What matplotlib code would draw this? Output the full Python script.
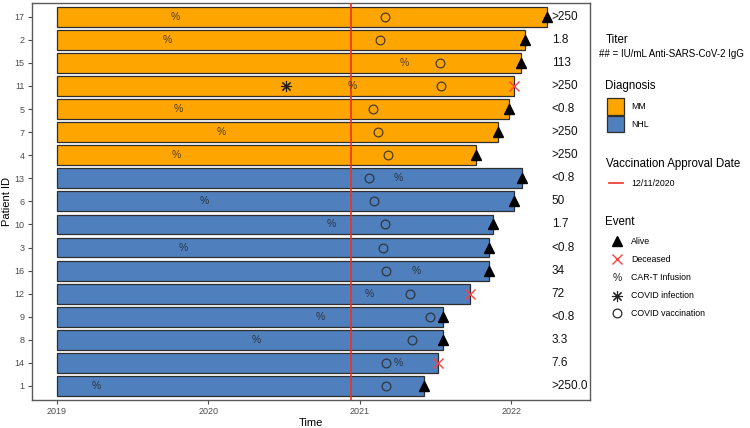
import matplotlib
matplotlib.use("Agg")
import matplotlib.pyplot as plt
from matplotlib.lines import Line2D
from matplotlib.patches import Rectangle

plt.rcParams['font.family'] = ['Liberation Sans', 'DejaVu Sans']

# ---------------- data ----------------
patient_ids = ['17', '2', '15', '11', '5', '7', '4', '13', '6', '10', '3', '16', '12', '9', '8', '14', '1']
diagnosis = ['MM'] * 7 + ['NHL'] * 10
start_time = [2019.0] * 17
end_time = [2022.234, 2022.091, 2022.063, 2022.020, 2021.988, 2021.915, 2021.766,
            2022.073, 2022.016, 2021.880, 2021.853, 2021.851, 2021.726,
            2021.548, 2021.548, 2021.519, 2021.426]
status = ['Alive', 'Alive', 'Alive', 'Deceased', 'Alive', 'Alive', 'Alive',
          'Alive', 'Alive', 'Alive', 'Alive', 'Alive', 'Deceased',
          'Alive', 'Alive', 'Deceased', 'Alive']
cart_time = [2019.785, 2019.730, 2021.295, 2020.949, 2019.803, 2020.089, 2019.787,
             2021.255, 2019.972, 2020.815, 2019.838, 2021.372, 2021.063,
             2020.738, 2020.317, 2021.255, 2019.264]
vacc_time = [2021.169, 2021.134, 2021.532, 2021.535, 2021.090, 2021.121, 2021.187,
             2021.059, 2021.094, 2021.169, 2021.156, 2021.176, 2021.332,
             2021.464, 2021.345, 2021.174, 2021.174]
covid_patient = ['11']
covid_time = [2020.512]
titer = ['>250', '1.8', '113', '>250', '<0.8', '>250', '>250', '<0.8', '50', '1.7',
         '<0.8', '34', '72', '<0.8', '3.3', '7.6', '>250.0']
approval_date = 2020.943
year_ticks = [2019, 2020, 2021, 2022]

diag_colors = {'MM': '#FFA500', 'NHL': '#4F80BD'}

# ---------------- figure ----------------
W, H = 750, 428
fig = plt.figure(figsize=(W / 100, H / 100), dpi=100)
ax = fig.add_axes([31.7 / W, 1 - 400 / H, (590 - 31.7) / W, (400 - 2.7) / H])

n = len(patient_ids)
ypos = [n - 1 - i for i in range(n)]

ax.barh(ypos, [e - s for s, e in zip(start_time, end_time)], left=start_time,
        height=0.86, color=[diag_colors[d] for d in diagnosis],
        edgecolor='#2e2e2e', linewidth=0.9, zorder=2)

ax.axvline(approval_date, color='#EE3124', linewidth=1.2, zorder=3)

# events
for y, e, st in zip(ypos, end_time, status):
    if st == 'Alive':
        ax.plot(e, y, marker='^', color='black', markersize=7, linestyle='none', zorder=5)
    else:
        ax.plot(e, y, marker='x', color='#FF4040', markersize=6.5, markeredgewidth=1.0,
                linestyle='none', zorder=5)

for y, c in zip(ypos, cart_time):
    ax.text(c, y, '%', ha='center', va='center', fontsize=7.5, color='#222222',
            alpha=0.8, zorder=4)

for y, v in zip(ypos, vacc_time):
    ax.plot(v, y, marker='o', markerfacecolor='none', markeredgecolor='#2a2a2a',
            markersize=6.3, markeredgewidth=0.9, alpha=0.85, linestyle='none', zorder=4)

for pid, t in zip(covid_patient, covid_time):
    y = ypos[patient_ids.index(pid)]
    ax.plot(t, y, marker=(8, 2, 0), color='#222222', markersize=8, markeredgewidth=0.8,
            linestyle='none', zorder=4)
    ax.plot(t, y, marker='o', color='#222222', markersize=1.8, linestyle='none', zorder=4)

for y, t in zip(ypos, titer):
    ax.text(2022.267, y, t, ha='left', va='center', fontsize=8.5, color='#111111', zorder=6)

ax.set_xlim(2018.835, 2022.52)
ax.set_ylim(-0.607, n - 1 + 0.607)
ax.set_xticks(year_ticks)
ax.set_xticklabels([str(t) for t in year_ticks])
ax.set_yticks(ypos)
ax.set_yticklabels(patient_ids)
ax.tick_params(axis='both', labelsize=6.5, labelcolor='#4d4d4d', color='#4d4d4d',
               length=3, width=0.8, pad=2)
for sp in ax.spines.values():
    sp.set_color('#5a5a5a')
    sp.set_linewidth(1.0)
ax.set_xlabel('Time', fontsize=8, labelpad=1.5)
ax.set_ylabel('Patient ID', fontsize=8, labelpad=2)

# ---------------- legend (pixel coordinates) ----------------
lax = fig.add_axes([0, 0, 1, 1])
lax.set_xlim(0, W)
lax.set_ylim(H, 0)
lax.axis('off')
lax.patch.set_alpha(0)

lx = 605.5
tfs = 8.3
lax.text(lx, 40, 'Titer', fontsize=tfs, va='center', ha='left')
lax.text(599, 54, '## = IU/mL Anti-SARS-CoV-2 IgG', fontsize=7.0, va='center', ha='left')
lax.text(lx, 86, 'Diagnosis', fontsize=tfs, va='center', ha='left')
for i, d in enumerate(['MM', 'NHL']):
    y0 = 98 + i * 17.5
    lax.add_patch(Rectangle((607, y0), 16.5, 16.5, facecolor=diag_colors[d],
                            edgecolor='#2e2e2e', linewidth=0.9))
    lax.text(631, y0 + 8.5, d, fontsize=6.3, va='center', ha='left')

lax.text(lx, 164, 'Vaccination Approval Date', fontsize=tfs, va='center', ha='left')
lax.add_line(Line2D([609, 623], [183.3, 183.3], color='#EE3124', linewidth=1.2))
lax.text(631, 183.3, '12/11/2020', fontsize=6.3, va='center', ha='left')

lax.text(lx, 221.5, 'Event', fontsize=tfs, va='center', ha='left')
ev_y = [241, 259.3, 277.7, 295.7, 313.3]
ev_labels = ['Alive', 'Deceased', 'CAR-T Infusion', 'COVID infection', 'COVID vaccination']
mx = 617
lax.plot(mx, ev_y[0], marker='^', color='black', markersize=7, linestyle='none')
lax.plot(mx, ev_y[1], marker='x', color='#FF4040', markersize=6.5, markeredgewidth=1.0,
         linestyle='none')
lax.text(mx, ev_y[2], '%', fontsize=7.5, ha='center', va='center', color='#222222')
lax.plot(mx, ev_y[3], marker=(8, 2, 0), color='#222222', markersize=8, markeredgewidth=0.8,
         linestyle='none')
lax.plot(mx, ev_y[4], marker='o', markerfacecolor='none', markeredgecolor='#2a2a2a',
         markersize=6.3, markeredgewidth=0.9, linestyle='none')
for y, lab in zip(ev_y, ev_labels):
    lax.text(631, y, lab, fontsize=6.3, va='center', ha='left')

fig.savefig('out.png', dpi=100)
